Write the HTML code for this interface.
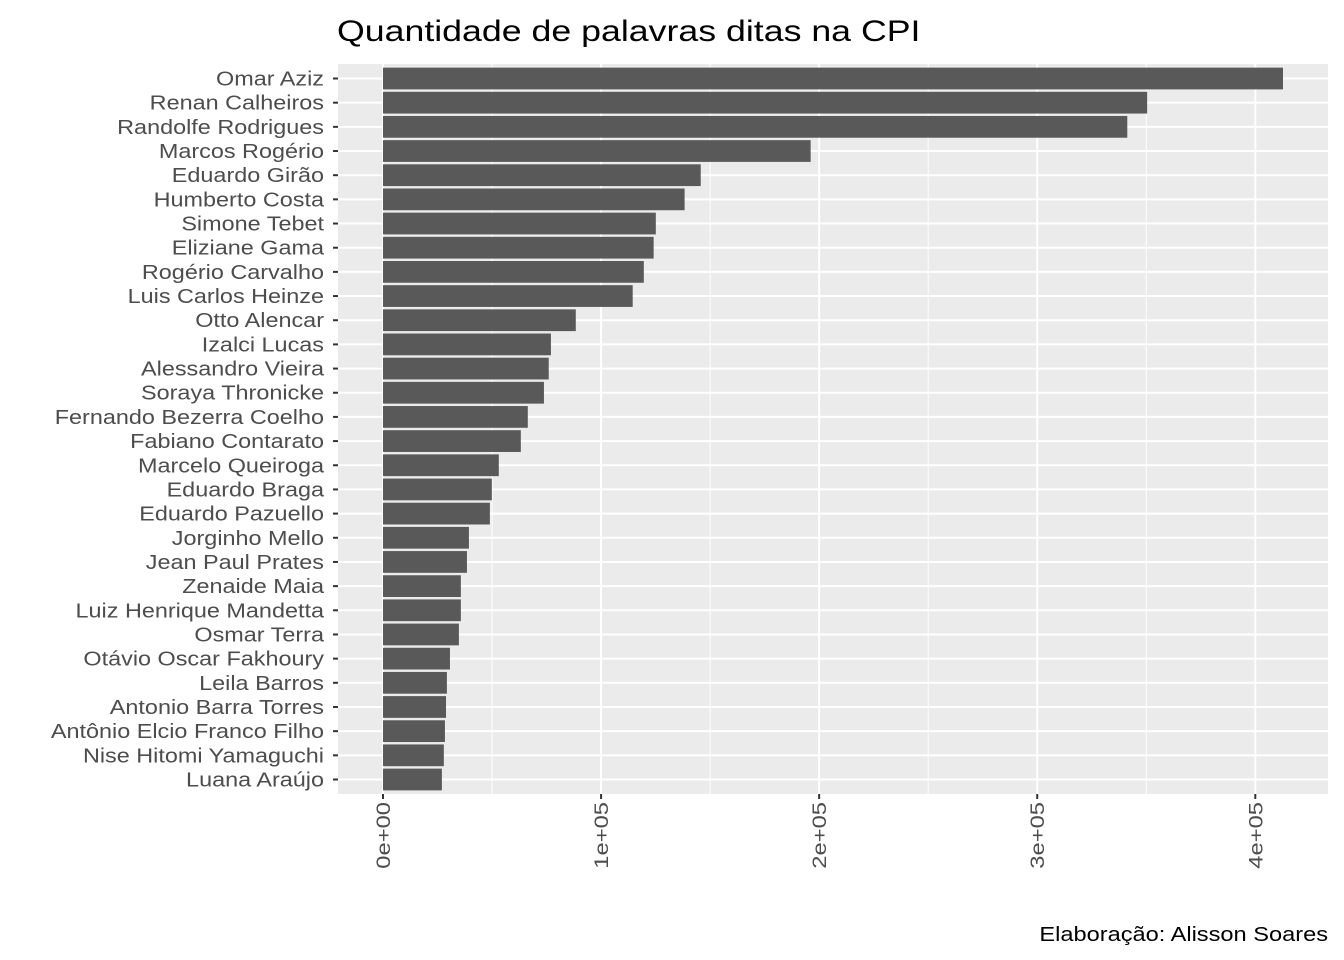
<!DOCTYPE html>
<html><head><meta charset="utf-8"><style>
body{margin:0;background:#fff;}
svg{display:block;font-family:"Liberation Sans",sans-serif;}
</style></head><body>
<svg id="chart" width="1344" height="960" viewBox="0 0 1344 960">
<rect width="1344" height="960" fill="#fff"/>
<text class="sc" data-k="1.19" x="337" y="41" font-size="30" fill="#000">Quantidade de palavras ditas na CPI</text>
<text class="sc" data-k="1.18" x="1328" y="941" font-size="20" fill="#000" text-anchor="end">Elaboração: Alisson Soares</text>
<g id="plot"></g>
</svg>
<script>
const categories=["Omar Aziz","Renan Calheiros","Randolfe Rodrigues","Marcos Rogério","Eduardo Girão","Humberto Costa","Simone Tebet","Eliziane Gama","Rogério Carvalho","Luis Carlos Heinze","Otto Alencar","Izalci Lucas","Alessandro Vieira","Soraya Thronicke","Fernando Bezerra Coelho","Fabiano Contarato","Marcelo Queiroga","Eduardo Braga","Eduardo Pazuello","Jorginho Mello","Jean Paul Prates","Zenaide Maia","Luiz Henrique Mandetta","Osmar Terra","Otávio Oscar Fakhoury","Leila Barros","Antonio Barra Torres","Antônio Elcio Franco Filho","Nise Hitomi Yamaguchi","Luana Araújo"];
const values=[412700,350400,341300,196100,145700,138300,125100,124100,119600,114500,88400,77000,76000,73800,66400,63200,53100,49900,49000,39400,38500,35700,35700,34800,30700,29300,28900,28400,27900,27000];
const tickValues=[0,100000,200000,300000,400000];
const tickLabels=["0e+00","1e+05","2e+05","3e+05","4e+05"];
const NS="http://www.w3.org/2000/svg";
const g=document.getElementById('plot');
const L=338,R=1328,T=64,B=794;
const vmax=Math.max(...values);
const pad=vmax*0.05;
const x=v=>L+(v+pad)/(vmax+2*pad)*(R-L);
const n=categories.length;
const step=(B-T)/(n-1+1.2);
const y=i=>T+step*(0.6+i);
function el(t,a){const e=document.createElementNS(NS,t);for(const k in a)e.setAttribute(k,a[k]);g.appendChild(e);return e;}
const bg=el('rect',{x:L,y:T,width:R-L,height:B-T,fill:'#ebebeb'});


for(let i=0;i<tickValues.length;i++){
  const mv=tickValues[i]+50000;
  if(x(mv)<R){const m=el('line',{x1:x(mv),x2:x(mv),y1:T,y2:B,stroke:'#fff','stroke-width':1});
  
  }
}
tickValues.forEach((v,i)=>{
  const gl=el('line',{x1:x(v),x2:x(v),y1:T,y2:B,stroke:'#fff','stroke-width':2});
  
  
  const tk=el('line',{x1:x(v),x2:x(v),y1:B,y2:B+5,stroke:'#333','stroke-width':2});
  
  
  const t=el('text',{class:'sc','data-k':1.25,transform:`translate(${x(v)+7},${B+8}) rotate(-90)`,'font-size':19,fill:'#4d4d4d','text-anchor':'end'});
  
  
  t.textContent=tickLabels[i];
});
categories.forEach((c,i)=>{
  const yy=y(i);
  const gl=el('line',{x1:L,x2:R,y1:yy,y2:yy,stroke:'#fff','stroke-width':2});
  
  
});
categories.forEach((c,i)=>{
  const yy=y(i),h=step*0.9;
  const b=el('rect',{x:x(0),y:yy-h/2,width:x(values[i])-x(0),height:h,fill:'#595959'});
  
  
  const tk=el('line',{x1:L-5,x2:L,y1:yy,y2:yy,stroke:'#333','stroke-width':2});
  
  
  const t=el('text',{class:'sc','data-k':1.17,x:L-14,y:yy+7,'font-size':20,fill:'#4d4d4d','text-anchor':'end'});
  
  
  t.textContent=c;
});
document.querySelectorAll('text.sc').forEach(t=>{
  const k=parseFloat(t.getAttribute('data-k'));
  const len=t.getComputedTextLength();
  t.setAttribute('textLength',len*k);
  t.setAttribute('lengthAdjust','spacingAndGlyphs');
});
</script>
</body></html>
